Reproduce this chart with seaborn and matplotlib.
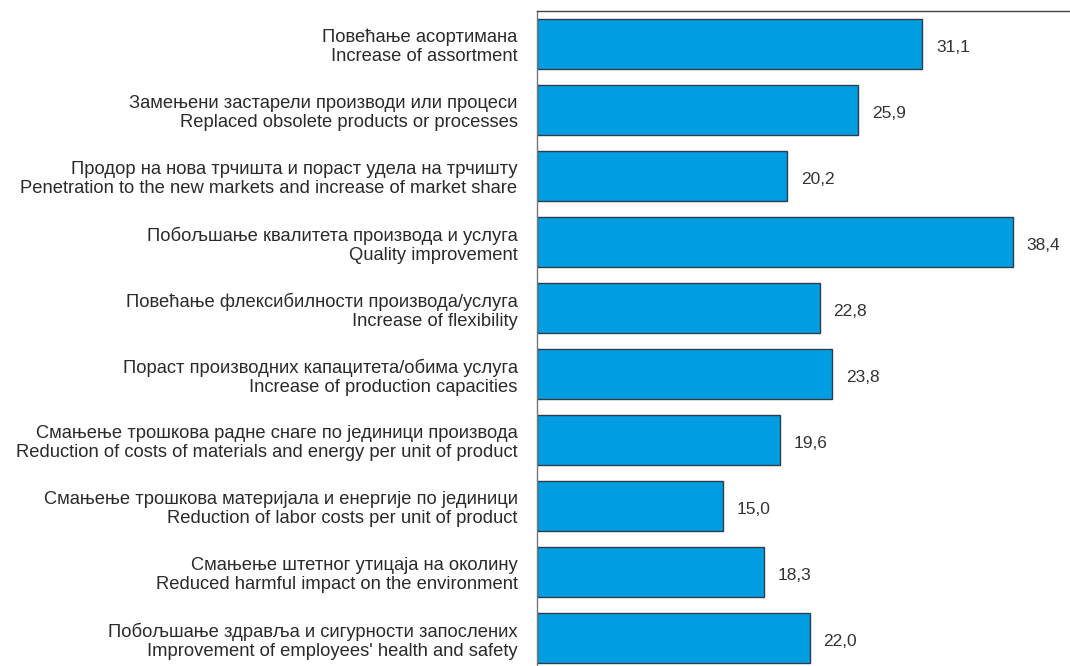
import seaborn as sns
import matplotlib.pyplot as plt
import pandas as pd

labels_sr = [
    'Повећање асортимана',
    'Замењени застарели производи или процеси',
    'Продор на нова трчишта и пораст удела на трчишту',
    'Побољшање квалитета производа и услуга',
    'Повећање флексибилности производа/услуга',
    'Пораст производних капацитета/обима услуга',
    'Смањење трошкова радне снаге по јединици производа',
    'Смањење трошкова материјала и енергије по јединици',
    'Смањење штетног утицаја на околину',
    'Побољшање здравља и сигурности запослених',
]
labels_en = [
    'Increase of assortment',
    'Replaced obsolete products or processes',
    'Penetration to the new markets and increase of market share',
    'Quality improvement',
    'Increase of flexibility',
    'Increase of production capacities',
    'Reduction of costs of materials and energy per unit of product',
    'Reduction of labor costs per unit of product',
    'Reduced harmful impact on the environment',
    "Improvement of employees' health and safety",
]
values = [31.1, 25.9, 20.2, 38.4, 22.8, 23.8, 19.6, 15.0, 18.3, 22.0]

df = pd.DataFrame({'label': [s + '\n' + e for s, e in zip(labels_sr, labels_en)],
                   'value': values})

sns.set_style('white')
plt.rcParams['font.family'] = ['Liberation Sans', 'DejaVu Sans']

fig = plt.figure(figsize=(10.7, 6.66), dpi=100)
ax = fig.add_axes([537 / 1070, -5 / 666, 533 / 1070, 660 / 666])

sns.barplot(data=df, x='value', y='label', orient='h', color='#009EE0',
            saturation=1, width=0.76, edgecolor='#2b3d4f', linewidth=1, ax=ax)

for i, v in enumerate(values):
    ax.text(v + 1.1, i + 0.05, f'{v:.1f}'.replace('.', ','), va='center', ha='left',
            fontsize=12.5, color='#333333')

ax.set_xlim(0, 43)
ax.set_ylim(len(values) - 0.5, -0.5)
ax.set_xlabel('')
ax.set_ylabel('')
ax.set_xticks([])
ax.tick_params(axis='y', length=0, pad=14, labelsize=13.2, labelcolor='#2a2a2a')
for t in ax.get_yticklabels():
    t.set_multialignment('right')
    t.set_linespacing(1.15)

for side in ['right', 'bottom']:
    ax.spines[side].set_visible(False)
ax.spines['left'].set_color('#777777')
ax.spines['top'].set_color('#444444')
ax.spines['left'].set_linewidth(1)
ax.spines['top'].set_linewidth(1)

plt.savefig('out.png', dpi=100)
